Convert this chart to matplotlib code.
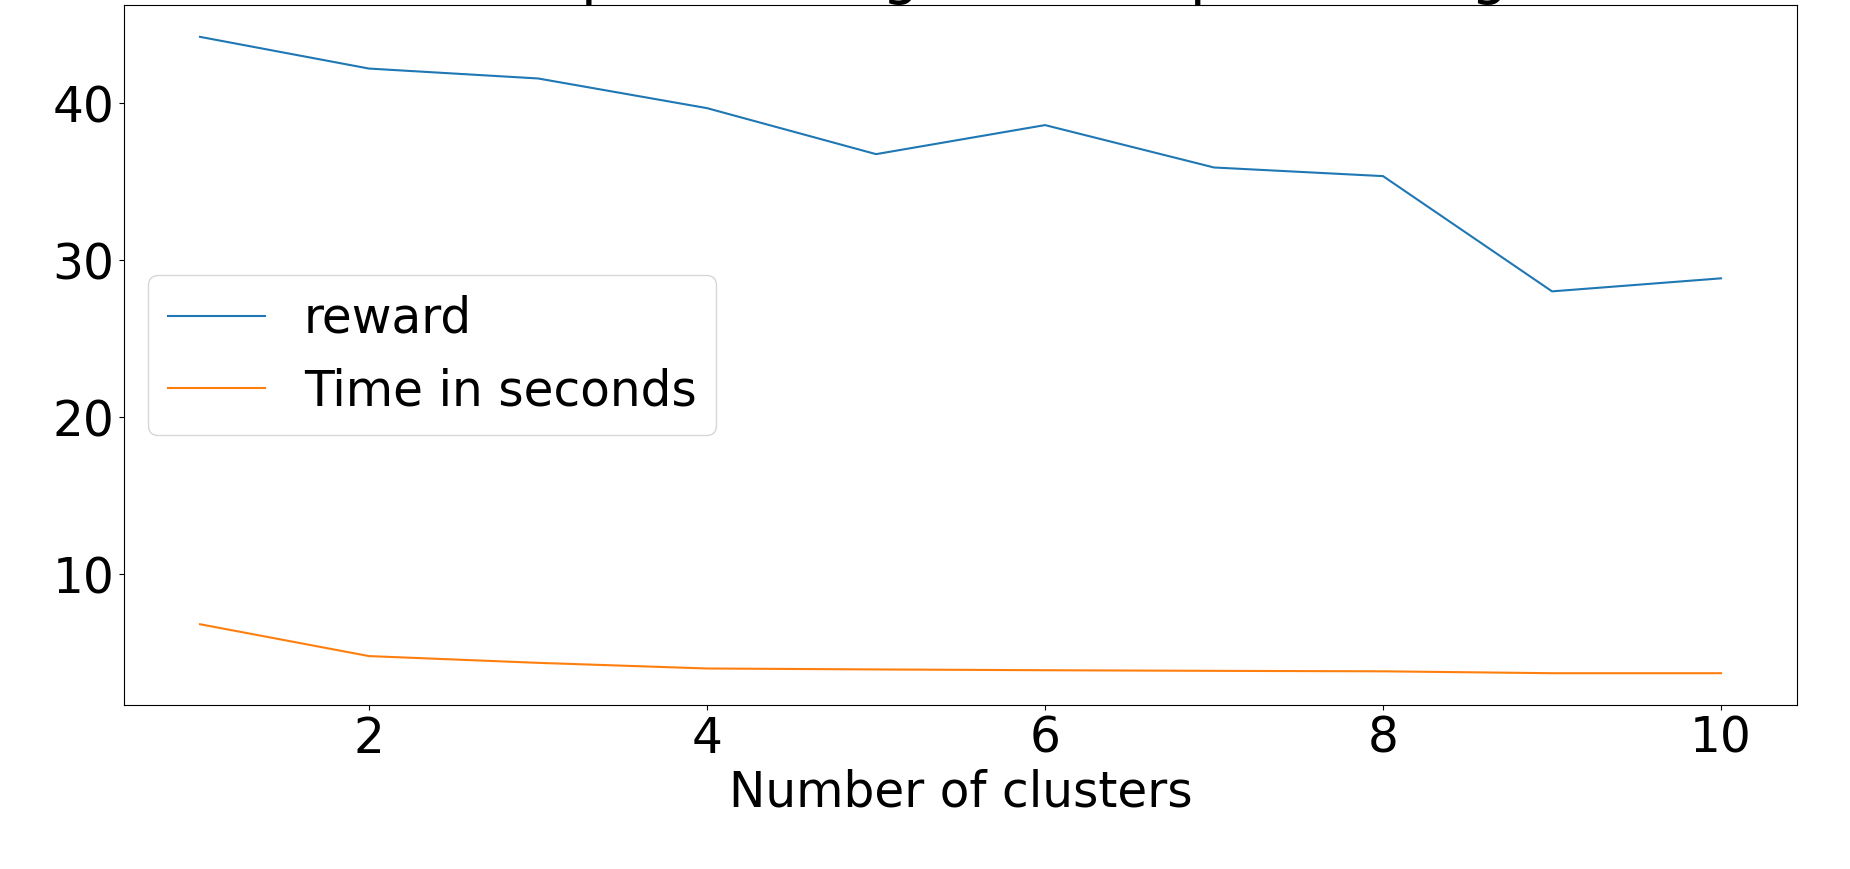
import matplotlib
matplotlib.use("Agg")
import matplotlib.pyplot as plt

clusters = [1, 2, 3, 4, 5, 6, 7, 8, 9, 10]
reward = [44.24, 42.22, 41.59, 39.70, 36.77, 38.62, 35.92, 35.37, 28.03, 28.86]
time_sec = [6.83, 4.80, 4.37, 4.01, 3.95, 3.90, 3.86, 3.83, 3.71, 3.71]

plt.rcParams['font.size'] = 35

fig, ax = plt.subplots(figsize=(18.5, 8.69), dpi=100)
fig.subplots_adjust(left=0.067, right=0.9714, top=0.9942, bottom=0.1887)

ax.plot(clusters, reward, label='reward')
ax.plot(clusters, time_sec, label='Time in seconds')

# title sits mostly above the canvas, like the original
ax.set_title('Cost: partitioning vs. time per setting')
ax.set_xlabel('Number of clusters')
ax.legend(loc='center left')

fig.savefig('out.png', dpi=100)
